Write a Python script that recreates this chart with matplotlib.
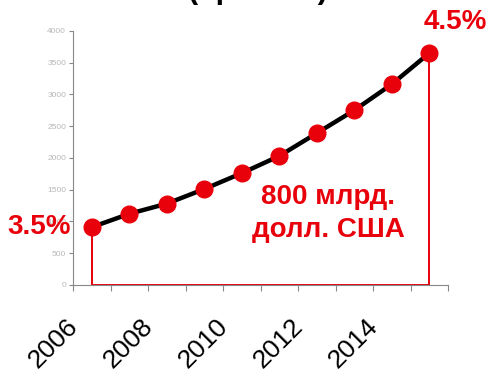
import matplotlib.pyplot as plt
import matplotlib.transforms as mtransforms

# Прогноз по годам
years = ["2006", "2007", "2008", "2009", "2010", "2011", "2012", "2013", "2014", "2015"]
values = [910, 1120, 1280, 1510, 1760, 2030, 2390, 2750, 3160, 3650]
yticks = [0, 500, 1000, 1500, 2000, 2500, 3000, 3500, 4000]

plt.rcParams['font.family'] = ['Liberation Sans', 'DejaVu Sans']
red = '#e8000b'

fig = plt.figure(figsize=(4.87, 3.72), dpi=100)
ax = fig.add_axes([0.150, 0.234, 0.770, 0.683])

x = list(range(len(years)))
ax.plot(x, values, color='black', lw=3.2, zorder=3,
        marker='o', markersize=12, markerfacecolor=red, markeredgecolor=red)

# рамка: от первой точки вниз, по нулю и вверх к последней
ax.plot([x[0], x[0], x[-1], x[-1]], [values[0], 0, 0, values[-1]],
        color=red, lw=1.4, zorder=2, clip_on=False)

ax.set_xlim(-0.5, len(years) - 0.5)
ax.set_ylim(0, 4000)
ax.set_yticks(yticks)
ax.set_yticklabels([str(v) for v in yticks], fontsize=6, color='#b8b8b8')

bounds = [i - 0.5 for i in range(len(years) + 1)]
ax.set_xticks(bounds)
ax.set_xticklabels([years[i] if i % 2 == 0 and i < len(years) - 1 else "" for i in range(len(bounds))],
                   fontsize=19, rotation=45, ha='right', rotation_mode='anchor')
ax.tick_params(axis='x', pad=17, length=4, color='#888888')
ax.tick_params(axis='y', length=3, color='#888888', pad=2)
shift = mtransforms.ScaledTranslation(-7 / 100, 0, fig.dpi_scale_trans)
for lbl in ax.get_xticklabels():
    lbl.set_transform(lbl.get_transform() + shift)

for s in ['top', 'right']:
    ax.spines[s].set_visible(False)
for s in ['left', 'bottom']:
    ax.spines[s].set_color('#888888')

ax.text(x[0] - 0.55, values[0], "3.5%", color=red, fontsize=20, fontweight='bold',
        ha='right', va='center', clip_on=False)
ax.text(x[-1] - 0.15, values[-1] + 280, "4.5%", color=red, fontsize=20, fontweight='bold',
        ha='left', va='bottom', clip_on=False)
ax.text(6.3, 1120, "800 млрд.\nдолл. США", color=red, fontsize=20, fontweight='bold',
        ha='center', va='center', linespacing=1.35)

fig.text(0.53, 1.005, "(прогноз)", fontsize=22, fontweight='bold', ha='center', va='baseline')

fig.savefig('out.png', dpi=100)
